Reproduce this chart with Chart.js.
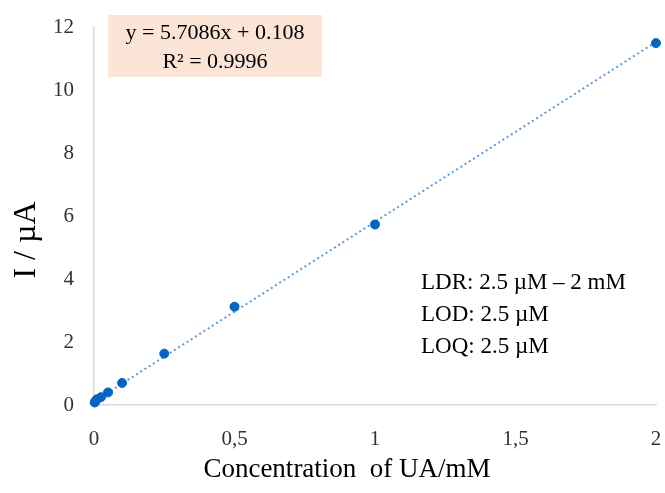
<!DOCTYPE html>
<html>
<head>
<meta charset="utf-8">
<script src="https://cdn.jsdelivr.net/npm/chart.js@4.4.1/dist/chart.umd.min.js"></script>
<style>
  html, body { margin: 0; padding: 0; background: #fff; }
  #wrap { width: 665px; height: 493px; }
</style>
</head>
<body>
<div id="wrap"><canvas id="calib"></canvas></div>
<script>
// datos de la calibracion
const concentrations = [0.0025, 0.005, 0.01, 0.025, 0.05, 0.1, 0.25, 0.5, 1, 2];
const currents = [0.08, 0.12, 0.18, 0.25, 0.40, 0.70, 1.63, 3.12, 5.73, 11.49];
const currentErrors = [0.02, 0.02, 0.02, 0.03, 0.03, 0.04, 0.05, 0.08, 0.10, 0.08];
const xTicks = [0, 0.5, 1, 1.5, 2];
const yTicks = [0, 2, 4, 6, 8, 10, 12];

// recta de regresion (del grafico)
const slope = 5.7086;
const intercept = 0.108;
const fitRange = [0, 2];

const equationLines = ["y = 5.7086x + 0.108", "R\u00B2 = 0.9996"];
const limitLines = ["LDR: 2.5 \u00B5M \u2013 2 mM", "LOD: 2.5 \u00B5M", "LOQ: 2.5 \u00B5M"];
const xTitle = "Concentration  of UA/mM";
const yTitle = "I / \u00B5A";

const serif = "'Liberation Serif', 'Times New Roman', serif";

//Plugin para barras de error, textos y titulos
const extrasPlugin = {
  id: "extras",
  beforeDatasetsDraw(chart) {
    const ctx = chart.ctx;
    const xs = chart.scales.x;
    const ys = chart.scales.y;
    ctx.save();
    ctx.strokeStyle = "#404040";
    ctx.lineWidth = 1;
    concentrations.forEach((c, i) => {
      const px = xs.getPixelForValue(c);
      const top = ys.getPixelForValue(currents[i] + currentErrors[i]);
      const bot = ys.getPixelForValue(currents[i] - currentErrors[i]);
      ctx.beginPath();
      ctx.moveTo(px, top); ctx.lineTo(px, bot);
      ctx.moveTo(px - 3, top); ctx.lineTo(px + 3, top);
      ctx.moveTo(px - 3, bot); ctx.lineTo(px + 3, bot);
      ctx.stroke();
    });
    ctx.restore();
  },
  afterDraw(chart) {
    const ctx = chart.ctx;
    ctx.save();
    // caja con la ecuacion
    ctx.fillStyle = "#fce4d6";
    ctx.fillRect(108, 15, 214, 62);
    ctx.fillStyle = "#000";
    ctx.font = "22px " + serif;
    ctx.textAlign = "center";
    ctx.textBaseline = "middle";
    ctx.fillText(equationLines[0], 215, 33);
    ctx.fillText(equationLines[1], 215, 62);
    // limites
    ctx.textAlign = "left";
    ctx.font = "23px " + serif;
    limitLines.forEach((t, i) => ctx.fillText(t, 421, 283 + i * 32));
    // titulos de ejes
    ctx.textAlign = "center";
    ctx.font = "27px " + serif;
    ctx.fillText(xTitle, 347, 470);
    ctx.translate(27, 240);
    ctx.rotate(-Math.PI / 2);
    ctx.font = "32px " + serif;
    ctx.fillText(yTitle, 0, 0);
    ctx.restore();
  },
};

const chart = new Chart(document.getElementById("calib"), {
  type: "scatter",
  data: {
    datasets: [
      {
        label: "I",
        data: concentrations.map((c, i) => ({ x: c, y: currents[i] })),
        backgroundColor: "#0563c1",
        borderColor: "#0563c1",
        pointRadius: 4.5,
        clip: false,
        order: 0,
      },
      {
        type: "line",
        label: "Lineal",
        data: fitRange.map((x) => ({ x: x, y: slope * x + intercept })),
        borderColor: "#5b9bd5",
        borderWidth: 2,
        borderDash: [2, 3],
        pointRadius: 0,
        fill: false,
        clip: false,
        order: 1,
      },
    ],
  },
  options: {
    responsive: true,
    maintainAspectRatio: false,
    animation: false,
    layout: { padding: { top: 27, right: 9, left: 0, bottom: 0 } },
    plugins: {
      legend: { display: false },
      tooltip: { enabled: false },
    },
    scales: {
      x: {
        type: "linear",
        min: 0,
        max: 2,
        afterBuildTicks: (s) => { s.ticks = xTicks.map((v) => ({ value: v })); },
        afterFit: (s) => { s.height = 88; s.paddingLeft = 0; s.paddingRight = 0; },
        grid: { display: false },
        border: { display: true, color: "#d9d9d9", width: 1.5 },
        ticks: {
          padding: 14,
          color: "#333",
          font: { family: serif, size: 21 },
          callback: (v) => String(v).replace(".", ","),
        },
      },
      y: {
        min: 0,
        max: 12,
        afterBuildTicks: (s) => { s.ticks = yTicks.map((v) => ({ value: v })); },
        afterFit: (s) => { s.width = 94; s.paddingTop = 0; s.paddingBottom = 0; },
        grid: { display: false },
        border: { display: true, color: "#d9d9d9", width: 1.5 },
        ticks: {
          padding: 12,
          color: "#333",
          font: { family: serif, size: 21 },
        },
      },
    },
  },
  plugins: [extrasPlugin],
});
</script>
</body>
</html>
